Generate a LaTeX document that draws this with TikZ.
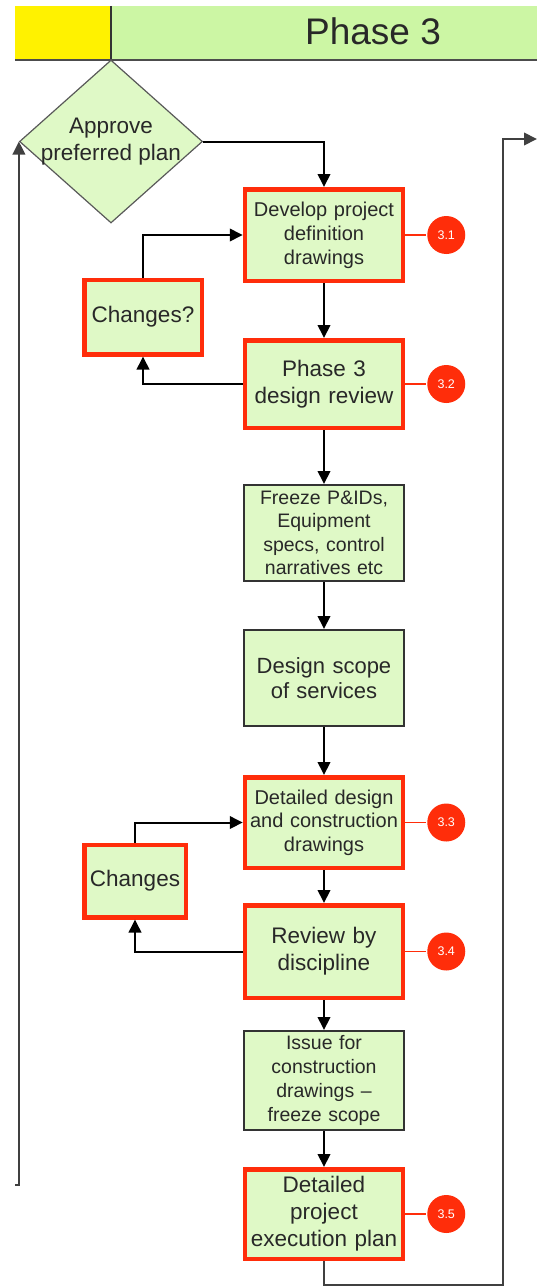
\documentclass[tikz,border=0pt]{standalone}
\usepackage{fontspec}
\setsansfont{Liberation Sans}
\usetikzlibrary{positioning}
\usetikzlibrary{arrows.meta}
\usetikzlibrary{shapes.geometric}
\definecolor{boxgreen}{RGB}{223,249,198}
\definecolor{bandgreen}{RGB}{204,246,164}
\definecolor{boxred}{RGB}{255,45,10}
\definecolor{textgrey}{RGB}{40,40,40}

\begin{document}
\begin{tikzpicture}[->, >={Triangle[length=13pt,width=12.5pt]}, line width=2pt, x=1pt, y=1pt, font=\sffamily]
    \tikzstyle{block}=[draw=black!80, fill=boxgreen, rectangle, line width=2pt, minimum width=160pt, inner sep=2pt, text width=154pt, align=center, text=textgrey]
    \tikzstyle{redblock}=[block, draw=boxred, line width=4.5pt, minimum width=157.5pt]
    \tikzstyle{badge}=[circle, fill=boxred, text=white, minimum size=38pt, inner sep=0pt, font=\sffamily\fontsize{12.5}{12.5}\selectfont]
    \tikzstyle{decision}=[diamond, draw=black!65, fill=boxgreen, line width=1.2pt, minimum width=183pt, minimum height=163pt, inner sep=0pt]
    \tikzstyle{small}=[font=\sffamily\fontsize{19.5}{23.5}\selectfont]
    \tikzstyle{large}=[font=\sffamily\fontsize{22.5}{27}\selectfont]

    \useasboundingbox (0,0) rectangle (537,-1287);

    % phase header
    \fill[yellow] (15,-6) rectangle (111,-60);
    \fill[bandgreen] (111,-6) rectangle (537,-60);
    \draw[-, black!80, line width=1.5pt] (111,-6) -- (111,-60);
    \draw[-, black!70, line width=1.5pt] (15,-60) -- (537,-60);
    \node[text=textgrey, font=\sffamily\fontsize{37}{40}\selectfont] (title) at (373,-31) {Phase 3};

    \node[decision, label={[align=center, text=textgrey, large]center:Approve\\preferred plan}] (approve) at (111,-141.5) {};

    % main column
    \node[redblock, minimum height=91.5pt, font=\sffamily\fontsize{20}{24}\selectfont] (develop) at (324,-235) {Develop project\\definition\\drawings};
    \node[redblock, minimum height=87.5pt, large, below=55pt of develop] (review) {Phase 3\\design review};
    \node[block, minimum height=96pt, small, below=54pt of review] (freeze) {Freeze P\&IDs,\\Equipment\\specs, control\\narratives etc};
    \node[block, minimum height=96pt, font=\sffamily\fontsize{22}{25}\selectfont, below=47pt of freeze] (scope) {Design scope\\of services};
    \node[redblock, minimum height=90.5pt, font=\sffamily\fontsize{20}{23.5}\selectfont, below=48pt of scope] (detailed) {Detailed design\\and construction\\drawings};
    \node[redblock, minimum height=92.5pt, large, below=33pt of detailed] (discipline) {Review by\\discipline};
    \node[block, minimum height=99pt, font=\sffamily\fontsize{19.5}{24}\selectfont, below=30pt of discipline] (issue) {Issue for\\construction\\drawings --\\freeze scope};
    \node[redblock, minimum height=89.5pt, large, below=36pt of issue] (plan) {Detailed\\project\\execution plan};

    % change loops
    \node[redblock, minimum width=117.5pt, minimum height=74.5pt, text width=112pt, large] (changesq) at (143,-317) {Changes?};
    \node[redblock, minimum width=101.5pt, minimum height=72.5pt, text width=96pt, large] (changes) at (135,-881) {Changes};

    % numbered markers
    \node[badge, right=21pt of develop] (m31) {3.1};
    \node[badge, right=21pt of review] (m32) {3.2};
    \node[badge, right=21pt of detailed] (m33) {3.3};
    \node[badge, right=21pt of discipline] (m34) {3.4};
    \node[badge, right=21pt of plan] (m35) {3.5};
    \foreach \b/\m in {develop/m31, review/m32, detailed/m33, discipline/m34, plan/m35}
        \draw[-, boxred, line width=1.8pt] (\b) -- (\m);

    \draw (approve) -| (develop);
    \draw (develop) -- (review);
    \draw (review) -- (freeze);
    \draw (freeze) -- (scope);
    \draw (scope) -- (detailed);
    \draw (detailed) -- (discipline);
    \draw (discipline) -- (issue);
    \draw (issue) -- (plan);

    \draw (changesq) |- (develop);
    \draw (review) -| (changesq);
    \draw (changes) |- (detailed);
    \draw (discipline) -| (changes);

    % lines leaving the phase
    \coordinate (lbot) at (15,-1185);
    \coordinate (rbot) at (503,-1285);
    \coordinate (rtop) at (537,-139);
    \draw[black!75] (lbot) -| (approve.west);
    \draw[black!75] (plan) |- (rbot) |- (rtop);

\end{tikzpicture}
\end{document}
